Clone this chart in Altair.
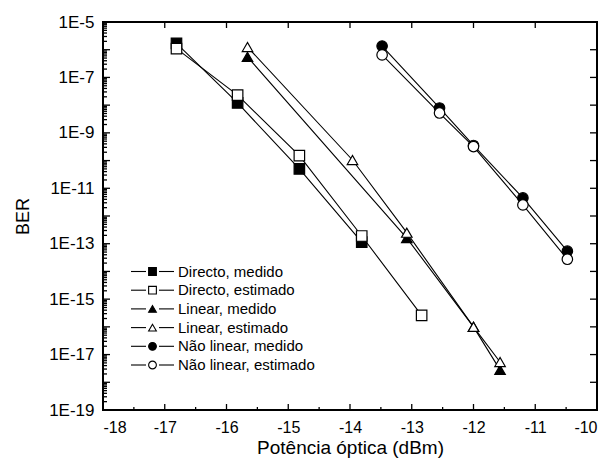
import altair as alt
import pandas as pd

series_names = ["Directo, medido", "Directo, estimado", "Linear, medido",
                "Linear, estimado", "Não linear, medido", "Não linear, estimado"]

x_directo_med = [-16.81, -15.82, -14.82, -13.81]
y_directo_med = [1.7e-6, 1.2e-8, 5.0e-11, 1.15e-13]
x_directo_est = [-16.81, -15.82, -14.82, -13.81, -12.84]
y_directo_est = [1.1e-6, 2.3e-8, 1.5e-10, 1.9e-13, 2.6e-16]
x_linear_med = [-15.66, -13.08, -12.0, -11.57]
y_linear_med = [5.5e-7, 1.6e-13, 1.0e-16, 2.8e-18]
x_linear_est = [-15.66, -13.96, -13.08, -12.0, -11.57]
y_linear_est = [1.25e-6, 1.05e-10, 2.5e-13, 1.0e-16, 5.4e-18]
x_naolin_med = [-13.48, -12.55, -12.0, -11.2, -10.48]
y_naolin_med = [1.35e-6, 7.9e-9, 3.5e-10, 4.5e-12, 5.4e-14]
x_naolin_est = [-13.48, -12.55, -12.0, -11.2, -10.48]
y_naolin_est = [6.5e-7, 5.2e-9, 3.2e-10, 2.5e-12, 2.75e-14]

x_major = [-18, -17, -16, -15, -14, -13, -12, -11, -10]
x_minor = [-17.5, -16.5, -15.5, -14.5, -13.5, -12.5, -11.5, -10.5]
y_labels = [1e-5, 1e-7, 1e-9, 1e-11, 1e-13, 1e-15, 1e-17, 1e-19]
y_decades = [10.0 ** -k for k in range(5, 20)]
y_minor = [m * 10.0 ** -k for k in range(6, 20) for m in range(2, 10)]

xs_all = [x_directo_med, x_directo_est, x_linear_med, x_linear_est, x_naolin_med, x_naolin_est]
ys_all = [y_directo_med, y_directo_est, y_linear_med, y_linear_est, y_naolin_med, y_naolin_est]
rows = []
for name, xs, ys in zip(series_names, xs_all, ys_all):
    for i, (xv, yv) in enumerate(zip(xs, ys)):
        rows.append({"series": name, "x": xv, "ber": yv, "order": i})
df = pd.DataFrame(rows)
legend_df = pd.DataFrame({"series": series_names})

W, H = 494, 388
FONT = "Liberation Sans"
xscale = alt.Scale(domain=[-18, -10], nice=False, zero=False)
yscale = alt.Scale(type="log", domain=[1e-19, 1e-5], nice=False)

plot_shapes = ["square", "square", "triangle-up", "triangle-up", "circle", "circle"]
plot_sizes = [110, 110, 170, 170, 130, 130]
legend_sizes = [60, 60, 95, 95, 64, 64]
fills = ["black", "white", "black", "white", "black", "white"]

shape_scale = alt.Scale(domain=series_names, range=plot_shapes)
fill_scale = alt.Scale(domain=series_names, range=fills)

y_label_expr = "'1E' + round(log(datum.value) / LN10)"
x_label_expr = "datum.value < 0 ? '-' + abs(datum.value) : '' + datum.value"

base = alt.Chart(df)

lines = base.mark_line(color="black", strokeWidth=1.1).encode(
    x=alt.X("x:Q", scale=xscale,
            axis=alt.Axis(orient="bottom", values=x_major, labelExpr=x_label_expr,
                          ticks=False, domain=False, grid=False, labelPadding=9,
                          labelFontSize=16,
                          title="Potência óptica (dBm)", titlePadding=3,
                          titleFontSize=19)),
    y=alt.Y("ber:Q", scale=yscale,
            axis=alt.Axis(orient="left", values=y_labels, labelExpr=y_label_expr,
                          ticks=False, domain=False, grid=False, labelPadding=9,
                          labelFontSize=17,
                          title="BER", titlePadding=16, titleFontSize=18)),
    detail="series:N",
    order="order:Q",
)

points = base.mark_point(filled=False, stroke="black", strokeWidth=1.2, opacity=1).encode(
    x=alt.X("x:Q", scale=xscale, axis=None),
    y=alt.Y("ber:Q", scale=yscale, axis=None),
    shape=alt.Shape("series:N", scale=shape_scale, legend=None),
    fill=alt.Fill("series:N", scale=fill_scale, legend=None),
    size=alt.Size("series:N", scale=alt.Scale(domain=series_names, range=plot_sizes),
                  legend=None),
)

# --- legend (inside plot, lower left) ---
leg_y = alt.Y("series:N", scale=alt.Scale(type="point", domain=series_names,
                                          range=[249.5, 343], padding=0), axis=None)
leg_base = alt.Chart(legend_df)
leg_line_left = leg_base.mark_rule(color="black", strokeWidth=1.1).encode(
    y=leg_y, x=alt.value(28), x2=alt.value(43))
leg_line_right = leg_base.mark_rule(color="black", strokeWidth=1.1).encode(
    y=leg_y, x=alt.value(56), x2=alt.value(71))
leg_marks = leg_base.mark_point(filled=False, stroke="black", strokeWidth=1.1,
                                opacity=1).encode(
    y=leg_y, x=alt.value(49.5),
    shape=alt.Shape("series:N", scale=shape_scale, legend=None),
    fill=alt.Fill("series:N", scale=fill_scale, legend=None),
    size=alt.Size("series:N", scale=alt.Scale(domain=series_names, range=legend_sizes),
                  legend=None),
)
leg_text = leg_base.mark_text(align="left", baseline="middle", font=FONT, fontSize=15,
                              color="black").encode(
    y=leg_y, x=alt.value(75), text="series:N")
legend = alt.layer(leg_line_left, leg_line_right, leg_marks, leg_text).resolve_scale(
    size="independent")


# --- inward tick marks (nested layer, drawn last, through the same scales) ---
def xticks(values, y0, y1):
    return alt.Chart(pd.DataFrame({"tv": values})).mark_rule(
        color="black", strokeWidth=1.3).encode(
        x=alt.X("tv:Q", scale=xscale, axis=None),
        y=alt.value(y0), y2=alt.value(y1))


def yticks(values, x0, x1):
    return alt.Chart(pd.DataFrame({"tv": values})).mark_rule(
        color="black", strokeWidth=1.3).encode(
        y=alt.Y("tv:Q", scale=yscale, axis=None),
        x=alt.value(x0), x2=alt.value(x1))


ticks = alt.layer(
    xticks(x_major, H, H - 6),
    xticks(x_minor, H, H - 3),
    xticks(x_major, 0, 6),
    yticks(y_decades, 0, 7),
    yticks(y_minor, 0, 4),
    yticks(y_decades, W, W - 7),
)

chart = alt.layer(lines, points, legend, ticks).resolve_axis(
    x="independent", y="independent"
).resolve_scale(
    y="independent", size="independent"
).properties(
    width=W, height=H,
    background="white",
    autosize=alt.AutoSizeParams(type="none"),
    padding={"left": 103, "top": 22, "right": 13, "bottom": 52},
).configure_view(
    stroke="black", strokeWidth=2
).configure_axis(
    labelFont=FONT, labelColor="black", titleFont=FONT,
    titleColor="black", titleFontWeight="normal"
)

chart.save("out.html", embed_options={"renderer": "svg", "actions": False})
